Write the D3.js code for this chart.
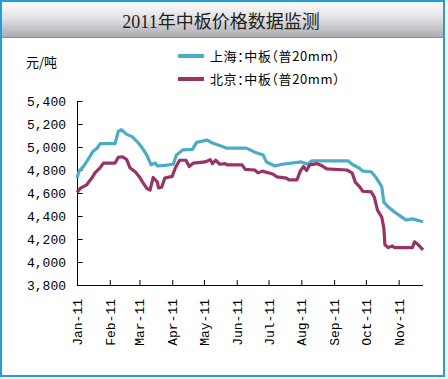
<!DOCTYPE html>
<html><head><meta charset="utf-8">
<script src="https://cdn.jsdelivr.net/npm/d3@7/dist/d3.min.js"></script>
<style>
body{margin:0;background:#fff;}
svg{display:block;}
.cjk{font-family:"Noto Sans CJK SC",sans-serif;font-feature-settings:"halt" 1;}
.mono{font-family:"Liberation Mono","DejaVu Sans Mono",monospace;}
</style></head>
<body>
<svg id="c" width="448" height="379"></svg>
<script>
const title = "2011年中板价格数据监测";
const unitLabel = "元/吨";
const seriesNames = ["上海：中板（普20mm）", "北京：中板（普20mm）"];
const seriesColors = ["#4bacc6", "#993366"];
const yTicks = [3800, 4000, 4200, 4400, 4600, 4800, 5000, 5200, 5400];
const xTickDates = ["2011-01-01","2011-02-01","2011-03-01","2011-04-01","2011-05-01","2011-06-01","2011-07-01","2011-08-01","2011-09-01","2011-10-01","2011-11-01"];
const xDomain = ["2011-01-01", "2011-11-24"];

const shDates = ["2011-01-01","2011-01-03","2011-01-07","2011-01-11","2011-01-16","2011-01-20","2011-01-23","2011-02-06","2011-02-09","2011-02-12","2011-02-17","2011-02-22","2011-02-27","2011-03-03","2011-03-08","2011-03-12","2011-03-16","2011-03-18","2011-03-25","2011-04-02","2011-04-05","2011-04-11","2011-04-20","2011-04-24","2011-05-04","2011-05-09","2011-05-23","2011-06-10","2011-06-18","2011-06-26","2011-06-29","2011-07-07","2011-07-14","2011-08-01","2011-08-07","2011-08-11","2011-09-14","2011-09-18","2011-09-25","2011-09-28","2011-10-06","2011-10-11","2011-10-16","2011-10-18","2011-10-22","2011-10-28","2011-11-04","2011-11-08","2011-11-14","2011-11-24"];
const shValues = [4730,4790,4830,4885,4960,4990,5030,5030,5135,5150,5110,5090,5045,5000,4930,4845,4860,4835,4840,4850,4930,4975,4980,5040,5060,5035,4990,4990,4955,4930,4870,4835,4850,4870,4850,4880,4880,4850,4815,4790,4785,4730,4655,4520,4480,4435,4390,4365,4375,4350];

const bjDates = ["2011-01-01","2011-01-04","2011-01-10","2011-01-15","2011-01-18","2011-01-23","2011-01-26","2011-02-06","2011-02-09","2011-02-13","2011-02-17","2011-02-20","2011-02-25","2011-03-01","2011-03-04","2011-03-08","2011-03-11","2011-03-14","2011-03-18","2011-03-19","2011-03-22","2011-03-25","2011-04-01","2011-04-04","2011-04-08","2011-04-14","2011-04-17","2011-04-21","2011-05-02","2011-05-07","2011-05-09","2011-05-12","2011-05-16","2011-05-21","2011-05-23","2011-06-06","2011-06-09","2011-06-18","2011-06-21","2011-06-25","2011-07-05","2011-07-09","2011-07-18","2011-07-20","2011-07-28","2011-07-31","2011-08-03","2011-08-06","2011-08-09","2011-08-16","2011-08-20","2011-08-25","2011-09-13","2011-09-18","2011-09-21","2011-09-25","2011-09-28","2011-10-06","2011-10-09","2011-10-12","2011-10-16","2011-10-18","2011-10-19","2011-10-22","2011-10-26","2011-10-28","2011-11-14","2011-11-16","2011-11-19","2011-11-24"];
const bjValues = [4605,4640,4670,4730,4775,4820,4860,4860,4910,4915,4890,4820,4785,4740,4695,4640,4625,4735,4695,4645,4650,4730,4745,4820,4885,4885,4830,4860,4870,4890,4855,4885,4850,4855,4845,4845,4805,4800,4775,4790,4765,4740,4730,4715,4715,4790,4830,4795,4845,4855,4840,4810,4800,4775,4695,4655,4615,4610,4565,4450,4390,4295,4150,4125,4140,4125,4125,4175,4155,4105];

const parse = d3.timeParse("%Y-%m-%d");
const svg = d3.select("#c");
const W = 448, H = 379;

// background + title band
const defs = svg.append("defs");
const g = defs.append("linearGradient").attr("id","tg").attr("x1",0).attr("y1",0).attr("x2",0).attr("y2",1);
g.append("stop").attr("offset","0%").attr("stop-color","#fbfbfb");
g.append("stop").attr("offset","45%").attr("stop-color","#e2e2e4");
g.append("stop").attr("offset","100%").attr("stop-color","#a7a7af");
svg.append("rect").attr("x",0).attr("y",0).attr("width",W).attr("height",H).attr("fill","#fff");
svg.append("rect").attr("x",2).attr("y",2).attr("width",441).attr("height",36).attr("fill","url(#tg)");
svg.append("line").attr("x1",2).attr("x2",443).attr("y1",37.5).attr("y2",37.5).attr("stroke","#8e8e96").attr("stroke-width",1);
svg.append("rect").attr("x",1).attr("y",1).attr("width",443).attr("height",375)
  .attr("fill","none").attr("stroke","#1ea0dd").attr("stroke-width",2);

svg.append("text").attr("x",221).attr("y",28).attr("text-anchor","middle")
  .attr("font-family","'Liberation Serif','Noto Sans CJK SC',serif").attr("font-size",18).attr("fill","#222")
  .text(title);

svg.append("text").attr("class","cjk").attr("x",26).attr("y",67).attr("font-size",13).attr("fill","#000").text(unitLabel);

// scales
const x = d3.scaleTime().domain(xDomain.map(parse)).range([77, 423]);
const y = d3.scaleLinear().domain([3800, 5400]).range([285, 101]);

// y axis
const yAxis = d3.axisLeft(y).tickValues(yTicks).tickSize(-5).tickPadding(11).tickFormat(d3.format(","));
const ya = svg.append("g").attr("transform","translate(77,0)").call(yAxis);
ya.select(".domain").attr("stroke","#000").attr("d","M0.5,101V285.5");
ya.selectAll(".tick line").attr("stroke","#000").attr("transform","translate(0.5,0)");
ya.selectAll("text").attr("class","mono").attr("font-size",13).attr("fill","#000").attr("dy","0.35em");

// x axis
const xAxis = d3.axisBottom(x).tickValues(xTickDates.map(parse)).tickSize(-5).tickFormat(d3.timeFormat("%b-%y"));
const xa = svg.append("g").attr("transform","translate(0,285)").call(xAxis);
xa.select(".domain").attr("stroke","#000").attr("d","M77,0.5H423");
xa.selectAll(".tick line").attr("stroke","#000");
xa.selectAll(".tick").filter((d,i)=>i===0).select("line").remove();
xa.selectAll("text").attr("class","mono").attr("font-size",13).attr("fill","#000")
  .attr("text-anchor","end").attr("transform","rotate(-90)").attr("x",-14).attr("y",0).attr("dy","0.35em");

// lines
const line = d3.line().x(d=>x(d.date)).y(d=>y(d.value));
const series = [
  shDates.map((d,i)=>({date:parse(d), value:shValues[i]})),
  bjDates.map((d,i)=>({date:parse(d), value:bjValues[i]}))
];
series.forEach((s,i)=>{
  svg.append("path").datum(s).attr("d",line).attr("fill","none")
    .attr("stroke",seriesColors[i]).attr("stroke-width",3.2).attr("stroke-linejoin","round");
});

// legend
const legY = [56, 79];
seriesNames.forEach((n,i)=>{
  svg.append("line").attr("x1",178).attr("x2",204).attr("y1",legY[i]).attr("y2",legY[i])
    .attr("stroke",seriesColors[i]).attr("stroke-width",4);
  svg.append("text").attr("class","cjk").attr("x",210).attr("y",legY[i]+5).attr("font-size",13)
    .attr("letter-spacing",0.6).attr("fill","#000").text(n);
});
</script>
</body></html>
